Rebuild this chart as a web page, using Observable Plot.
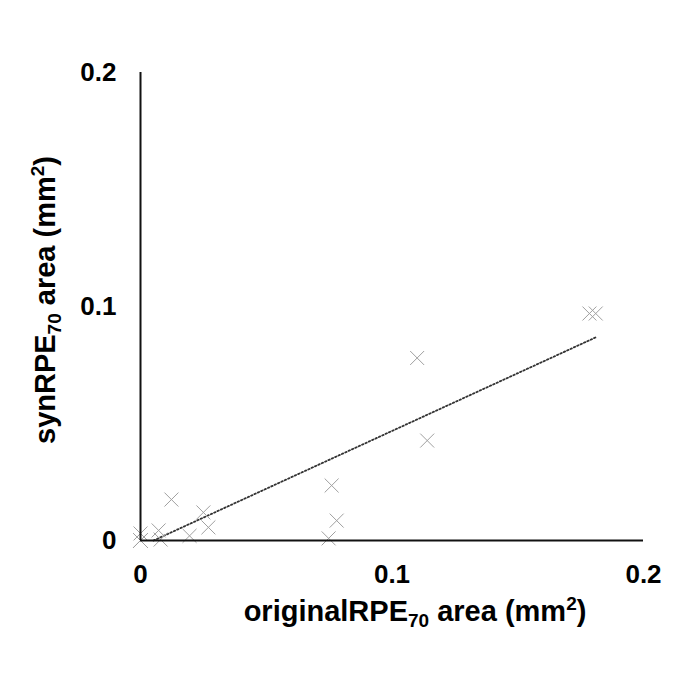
<!DOCTYPE html>
<html>
<head>
<meta charset="utf-8">
<script src="https://cdn.jsdelivr.net/npm/d3@7"></script>
<script src="https://cdn.jsdelivr.net/npm/@observablehq/plot@0.6"></script>
<style>
  html, body { margin: 0; padding: 0; background: #fff; }
  #chart svg { display: block; }
</style>
</head>
<body>
<div id="chart"></div>
<script>
// Data
const originalArea = [0, 0, 0, 0, 0, 0, 0.0072, 0.008, 0.0123, 0.0195, 0.025, 0.027, 0.0748, 0.076, 0.078, 0.110, 0.114, 0.1785, 0.181];
const synArea      = [0, 0, 0, 0, 0, 0.003, 0.0043, 0.0004, 0.0175, 0.002, 0.012, 0.0056, 0.0009, 0.0235, 0.0085, 0.078, 0.0427, 0.097, 0.097];
const trendX = [0.0052, 0.181];
const trendY = [0, 0.0868];
const tickValues = [0, 0.1, 0.2];
const tickLabels = ["0", "0.1", "0.2"];

const points = originalArea.map((x, i) => ({x, y: synArea[i]}));
const trend = trendX.map((x, i) => ({x, y: trendY[i]}));

const W = 685, H = 685;
const chart = Plot.plot({
  width: W,
  height: H,
  marginLeft: 140,
  marginRight: 42,
  marginTop: 72,
  marginBottom: 145,
  style: {fontFamily: "'Liberation Sans', Arial, sans-serif", fontSize: "26px", fontWeight: "bold", color: "#000", background: "#fff"},
  x: {domain: [0, 0.2], ticks: tickValues, tickFormat: (d, i) => tickLabels[i], tickSize: 0, tickPadding: 24, label: null},
  y: {domain: [0, 0.2], ticks: tickValues, tickFormat: (d, i) => tickLabels[i], tickSize: 0, tickPadding: 24, label: null},
  marks: [
    Plot.line(trend, {x: "x", y: "y", stroke: "#333", strokeWidth: 1.8, strokeDasharray: "1.5,2.2"}),
    Plot.dot(points, {x: "x", y: "y", symbol: "times", r: 6.4, stroke: "#a0a0a0", strokeWidth: 1}),
    Plot.ruleX([0], {stroke: "#111", strokeWidth: 2}),
    Plot.ruleY([0], {stroke: "#111", strokeWidth: 2})
  ]
});
document.getElementById("chart").appendChild(chart);

// Axis titles with sub/superscripts
const svg = d3.select(chart);
function addLabel(g, parts) {
  const t = g.append("text")
    .attr("font-family", "'Liberation Sans', Arial, sans-serif")
    .attr("font-weight", "bold")
    .attr("font-size", 29)
    .attr("fill", "#000")
    .attr("text-anchor", "middle");
  parts.forEach(p => {
    const ts = t.append("tspan").text(p.text);
    if (p.sub) ts.attr("font-size", 19).attr("dy", "6");
    else if (p.sup) ts.attr("font-size", 19).attr("dy", "-11");
    if (p.reset) ts.attr("dy", p.reset);
  });
  return t;
}
const xParts = [
  {text: "originalRPE"},
  {text: "70", sub: true},
  {text: " area (mm", reset: "-6"},
  {text: "2", sup: true},
  {text: ")", reset: "11"}
];
const yParts = [
  {text: "synRPE"},
  {text: "70", sub: true},
  {text: " area (mm", reset: "-6"},
  {text: "2", sup: true},
  {text: ")", reset: "11"}
];
addLabel(svg.append("g").attr("transform", "translate(415,621)"), xParts);
addLabel(svg.append("g").attr("transform", "translate(55,300) rotate(-90)"), yParts);
</script>
</body>
</html>
